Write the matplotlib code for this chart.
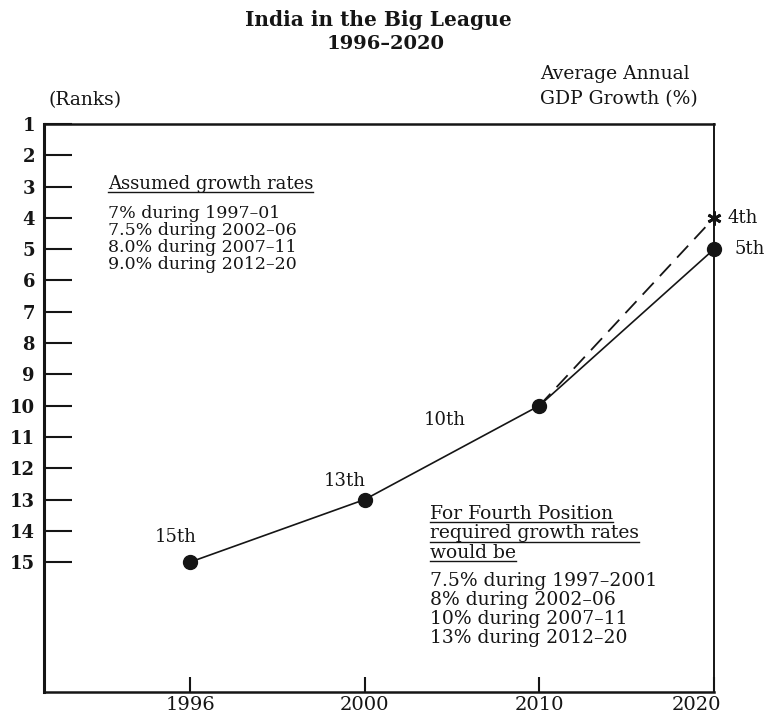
import numpy as np
import matplotlib
matplotlib.use("Agg")
import matplotlib.pyplot as plt
from matplotlib.lines import Line2D
from matplotlib.transforms import ScaledTranslation

# ---- data ----
years = ["1996", "2000", "2010", "2020"]
ranks = [15, 13, 10, 5]
rank_labels = ["15th", "13th", "10th", "5th"]
alt_years_idx = [2, 3]          # dashed path: 2010 -> 2020
alt_ranks = [10, 4]
alt_label = "4th"
rank_ticks = list(range(1, 16))

title = "India in the Big League"
subtitle = "1996\u20132020"
left_head = "(Ranks)"
right_head = ["Average Annual", "GDP Growth (%)"]
assumed_head = "Assumed growth rates"
assumed_lines = ["7% during 1997\u201301", "7.5% during 2002\u201306",
                 "8.0% during 2007\u201311", "9.0% during 2012\u201320"]
fourth_head = ["For Fourth Position", "required growth rates", "would be"]
fourth_lines = ["7.5% during 1997\u20132001", "8% during 2002\u201306",
                "10% during 2007\u201311", "13% during 2012\u201320"]

INK = "#151515"
FAM = "DejaVu Serif"
plt.rcParams["font.family"] = [FAM, "DejaVu Sans"]

W, H = 766, 716
fig = plt.figure(figsize=(W / 100, H / 100), dpi=100)
ax = fig.add_axes([44 / W, 1 - 692 / H, (714 - 44) / W, (692 - 124) / H])

def P(x, y):
    return (x / W, 1 - y / H)

x = np.arange(len(years))
ax.plot(x, ranks, color=INK, lw=1.2, marker="o", ms=10, mfc=INK, mec=INK,
        clip_on=False, zorder=3)
ax.plot(x[alt_years_idx], alt_ranks, color=INK, lw=1.3, ls=(0, (9, 5)),
        clip_on=False, zorder=2)
ax.plot([x[alt_years_idx[-1]]], [alt_ranks[-1]], ls="none", marker=(6, 2, 0),
        ms=10, mew=2, color=INK, clip_on=False, zorder=4)

offsets = [(-10, 18), (-14, 13), (-68, -10), (15, 0)]
for xi, r, lab, off in zip(x, ranks, rank_labels, offsets):
    ha = "left" if lab == rank_labels[-1] else "center"
    ax.annotate(lab, (xi, r), xytext=off, textcoords="offset points",
                ha=ha, va="center", fontsize=13, color=INK,
                annotation_clip=False)
ax.annotate(alt_label, (x[alt_years_idx[-1]], alt_ranks[-1]), xytext=(10, 0),
            textcoords="offset points", ha="left", va="center",
            fontsize=13, color=INK, annotation_clip=False)

ax.set_xlim(-0.836, 3.0)
ax.set_ylim(19.15, 1)
ax.set_yticks(rank_ticks)
ax.set_yticklabels([str(t) for t in rank_ticks])
ax.set_xticks(x)
ax.set_xticklabels(years)
ax.tick_params(axis="y", direction="in", length=20, width=1.5, pad=6.5,
               labelsize=13, colors=INK)
for lbl in ax.get_yticklabels():
    lbl.set_fontweight("bold")
ax.tick_params(axis="x", direction="in", length=11, width=1.5, pad=3,
               labelsize=14, colors=INK)
last = ax.get_xticklabels()[-1]
last.set_transform(last.get_transform() +
                   ScaledTranslation(-18 / 100, 0, fig.dpi_scale_trans))

for side, lw in (("left", 2.2), ("bottom", 1.8), ("top", 1.8), ("right", 1.4)):
    ax.spines[side].set_linewidth(lw)
    ax.spines[side].set_color(INK)

# ---- header texts ----
fig.text(*P(378, 20), title, ha="center", va="center", fontsize=14.5,
         fontweight="bold", color=INK)
fig.text(*P(386, 44), subtitle, ha="center", va="center", fontsize=14,
         fontweight="bold", color=INK)
fig.text(*P(85, 100), left_head, ha="center", va="center", fontsize=13.5,
         color=INK)
fig.text(*P(540, 74), right_head[0], ha="left", va="center", fontsize=13.5,
         color=INK)
fig.text(*P(540, 99), right_head[1], ha="left", va="center", fontsize=13.5,
         color=INK)

# ---- annotation blocks ----
underlined = []
t = fig.text(*P(108, 189), assumed_head, ha="left", va="baseline",
             fontsize=13, color=INK)
underlined.append((t, 189))
for i, s in enumerate(assumed_lines):
    fig.text(*P(108, 218 + 17 * i), s, ha="left", va="baseline",
             fontsize=12.5, color=INK)

for i, s in enumerate(fourth_head):
    yb = 519 + 19.5 * i
    t = fig.text(*P(430, yb), s, ha="left", va="baseline", fontsize=13.5,
                 color=INK)
    underlined.append((t, yb))
for i, s in enumerate(fourth_lines):
    fig.text(*P(430, 586 + 19 * i), s, ha="left", va="baseline",
             fontsize=13.5, color=INK)

r = fig.canvas.get_renderer()
for t, yb in underlined:
    bb = t.get_window_extent(renderer=r)
    yl = 1 - (yb + 3) / H
    fig.add_artist(Line2D([bb.x0 / W, bb.x1 / W], [yl, yl], lw=1.0,
                          color=INK, transform=fig.transFigure))

fig.savefig("out.png", dpi=100)
